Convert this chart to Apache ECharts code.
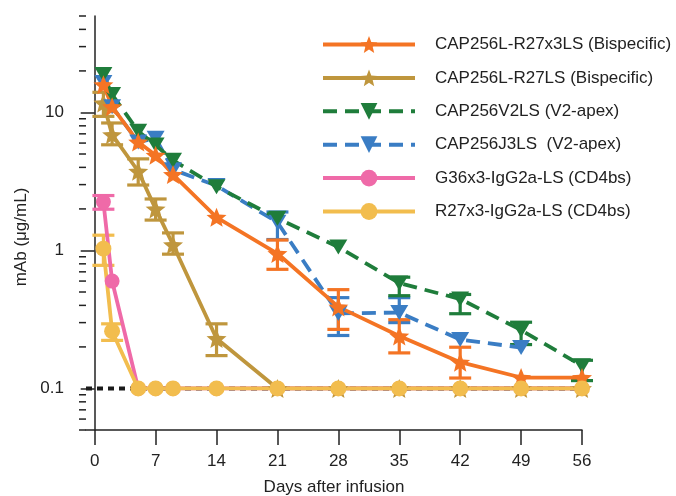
<!DOCTYPE html>
<html><head><meta charset="utf-8">
<script src="https://cdn.jsdelivr.net/npm/echarts@6/dist/echarts.min.js"></script>
<style>html,body{margin:0;padding:0;background:#fff}#c{width:676px;height:496px}</style>
</head><body><div id="c"></div>
<script>
// ---- tick labels ----
const xTicks = [0, 7, 14, 21, 28, 35, 42, 49, 56];
const yMajorTicks = [0.1, 1, 10];
const yMinorTicks = [0.05,0.06,0.07,0.08,0.09,0.2,0.3,0.4,0.5,0.6,0.7,0.8,0.9,2,3,4,5,6,7,8,9,20,30,40,50];
const lodValue = 0.1;

// ---- categories (days) ----
const daysAll  = [1, 2, 5, 7, 9, 14, 21, 28, 35, 42, 49, 56];
const daysBlue = [1, 2, 5, 7, 9, 14, 21, 28, 35, 42, 49];

// ---- series values (µg/mL) ----
const r27x3Bis = [15.9, 11.0, 6.1, 4.9, 3.55, 1.74, 0.95, 0.39, 0.24, 0.155, 0.12, 0.12];
const r27Bis   = [11.7, 6.9, 3.75, 2.0, 1.1, 0.23, 0.1, 0.1, 0.1, 0.1, 0.1, 0.1];
const v2ls     = [18.8, 13.5, 7.3, 5.8, 4.5, 2.9, 1.71, 1.06, 0.58, 0.445, 0.265, 0.146];
const j3ls     = [16.5, 11.0, 6.1, 6.5, 3.85, 2.95, 1.6, 0.35, 0.355, 0.226, 0.198];
const g36      = [2.25, 0.6, 0.1, 0.1, 0.1, 0.1, 0.1, 0.1, 0.1, 0.1, 0.1, 0.1];
const r27x3    = [1.03, 0.26, 0.1, 0.1, 0.1, 0.1, 0.1, 0.1, 0.1, 0.1, 0.1, 0.1];

// ---- error bars [day, low, high] ----
const errR27x3Bis = [[21,0.73,1.19],[28,0.268,0.52],[35,0.181,0.315],[42,0.119,0.199]];
const errR27Bis   = [[1,9.37,14.0],[2,5.83,8.39],[5,2.98,4.61],[7,1.66,2.36],[9,0.94,1.34],[14,0.173,0.294]];
const errV2ls     = [[35,0.47,0.64],[42,0.348,0.48],[49,0.208,0.302],[56,0.114,0.16]];
const errJ3ls     = [[21,1.2,1.9],[28,0.242,0.455],[35,0.30,0.455]];
const errG36      = [[1,1.99,2.5]];
const errR27x3    = [[1,0.78,1.29],[2,0.223,0.294]];

const names = ['CAP256L-R27x3LS (Bispecific)','CAP256L-R27LS (Bispecific)','CAP256V2LS (V2-apex)','CAP256J3LS  (V2-apex)','G36x3-IgG2a-LS (CD4bs)','R27x3-IgG2a-LS (CD4bs)'];
const colors = {orange:'#F47424', tan:'#BF963D', green:'#1F7D3B', blue:'#3A7DC4', pink:'#EF6AA8', yellow:'#F2BD4E'};

const STAR = 'path://M50,0L62.9,32.2L97.6,34.5L70.9,56.8L79.4,90.5L50,72L20.6,90.5L29.1,56.8L2.4,34.5L37.1,32.2Z';
const pair = (xs, ys) => xs.map((d, i) => [d, ys[i]]);

function lineSeries(name, xs, ys, color, symbol, size, dashed, rotate) {
  return {
    name, type: 'line', data: pair(xs, ys),
    symbol, symbolSize: size, symbolRotate: rotate || 0, symbolKeepAspect: true,
    showAllSymbol: true,
    itemStyle: {color, opacity: 1},
    lineStyle: {color, width: 3.8, type: dashed ? [14, 8] : 'solid'},
    emphasis: {disabled: true}
  };
}
function errSeries(name, data, color) {
  return {
    name, type: 'custom', data, encode: {x: 0, y: [1, 2]}, silent: true,
    renderItem: function (params, api) {
      const x = api.value(0), lo = api.value(1), hi = api.value(2);
      const a = api.coord([x, lo]), b = api.coord([x, hi]);
      const w = 11, style = {stroke: color, lineWidth: 3.2};
      return {type: 'group', children: [
        {type: 'line', shape: {x1: a[0], y1: a[1], x2: b[0], y2: b[1]}, style},
        {type: 'line', shape: {x1: a[0]-w, y1: a[1], x2: a[0]+w, y2: a[1]}, style},
        {type: 'line', shape: {x1: b[0]-w, y1: b[1], x2: b[0]+w, y2: b[1]}, style}
      ]};
    }
  };
}

const axisColor = '#222';
const option = {
  animation: false,
  textStyle: {fontFamily: 'Liberation Sans, Arial, sans-serif', color: axisColor},
  grid: {left: 86, right: 94, top: 16, bottom: 66, containLabel: false, outerBoundsMode: 'none'},
  legend: {
    orient: 'vertical', left: 321, top: 36, padding: 0,
    itemWidth: 92, itemHeight: 21, itemGap: 16.4,
    lineStyle: {width: 4},
    textStyle: {fontSize: 17, color: axisColor, padding: [0, 0, 0, 15]},
    data: names, selectedMode: false
  },
  xAxis: {
    type: 'value', min: -1, max: 56,
    axisLine: {show: true, onZero: false, lineStyle: {color: axisColor, width: 1.5}},
    axisTick: {show: true, customValues: xTicks, length: 15, lineStyle: {color: axisColor, width: 1.5}},
    axisLabel: {customValues: xTicks, margin: 23, fontSize: 17, color: axisColor},
    splitLine: {show: false},
    name: 'Days after infusion', nameLocation: 'middle', nameGap: 49,
    nameTextStyle: {fontSize: 17, color: axisColor}
  },
  yAxis: {
    type: 'log', logBase: 10, min: 0.05, max: 50,
    axisLine: {show: true, lineStyle: {color: axisColor, width: 1.5}},
    axisTick: {show: true, customValues: yMajorTicks, length: 14, lineStyle: {color: axisColor, width: 1.5}},
    axisLabel: {customValues: yMajorTicks, margin: 22, fontSize: 17, color: axisColor, formatter: v => String(+Number(v).toPrecision(6))},
    minorTick: {show: false},
    splitLine: {show: false},
    name: 'mAb (μg/mL)', nameLocation: 'middle', nameGap: 56,
    nameTextStyle: {fontSize: 17, color: axisColor, padding: [0, 28, 0, 0]}
  },
  series: [
    {
      name: 'minorTicks', type: 'custom', silent: true, clip: false,
      data: yMinorTicks.map(v => [-1, v]), encode: {x: 0, y: 1},
      renderItem: function (params, api) {
        const p = api.coord([api.value(0), api.value(1)]);
        return {type: 'line', shape: {x1: p[0]-7, y1: p[1], x2: p[0], y2: p[1]}, style: {stroke: axisColor, lineWidth: 1.5}};
      }
    },
    {
      name: 'LOD', type: 'line', data: [[-1, lodValue], [56, lodValue]], symbol: 'none', silent: true,
      lineStyle: {color: '#1a1a1a', width: 4, type: [6, 5]}
    },
    errSeries('errTan', errR27Bis, colors.tan),
    lineSeries(names[1], daysAll, r27Bis, colors.tan, STAR, 20, false),
    errSeries('errBlue', errJ3ls, colors.blue),
    lineSeries(names[3], daysBlue, j3ls, colors.blue, 'triangle', [18, 15], true, 180),
    errSeries('errGreen', errV2ls, colors.green),
    lineSeries(names[2], daysAll, v2ls, colors.green, 'triangle', [18, 15], true, 180),
    errSeries('errOrange', errR27x3Bis, colors.orange),
    lineSeries(names[0], daysAll, r27x3Bis, colors.orange, STAR, 20, false),
    errSeries('errPink', errG36, colors.pink),
    lineSeries(names[4], daysAll, g36, colors.pink, 'circle', 15, false),
    errSeries('errYellow', errR27x3, colors.yellow),
    lineSeries(names[5], daysAll, r27x3, colors.yellow, 'circle', 16, false)
  ]
};
const chart = echarts.init(document.getElementById('c'), null, {renderer: 'canvas'});
chart.setOption(option);
</script></body></html>
